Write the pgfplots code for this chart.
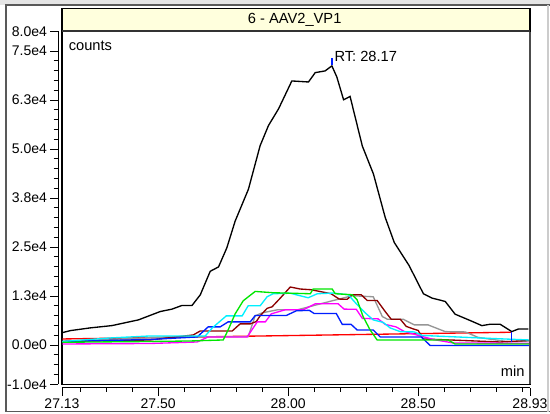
\documentclass[border=0pt]{standalone}
\usepackage{pgfplots}
\pgfplotsset{compat=1.18}
\usepackage{fontspec}
\setmainfont{Liberation Sans}
\definecolor{titlebg}{RGB}{255,255,221}
\definecolor{mygreen}{RGB}{0,230,0}
\definecolor{mycyan}{RGB}{0,240,255}
\definecolor{mygray}{RGB}{150,150,150}
\definecolor{mymaroon}{RGB}{140,0,0}
\definecolor{myblue}{RGB}{0,30,255}
\definecolor{mymagenta}{RGB}{255,0,255}
\pgfplotsset{
  rng/.style={scale only axis, width=351pt, height=264.6pt,
    xmin=27.13, xmax=28.93, ymin=-10000, ymax=80000},
  lw/.style={line width=1pt, no markers},
}
\begin{document}
\begin{tikzpicture}
\path[use as bounding box] (0,0) rectangle (412.5pt,310.5pt);
\fill[white] (0,0) rectangle (412.5pt,310.5pt);
\fill[gray!20] (0,307pt) rectangle (412.5pt,310.5pt);
\draw[gray!70!black, line width=1pt] (4.5pt,1.7pt) -- (4.5pt,306.75pt) -- (412.5pt,306.75pt);
\draw[gray!70!black, line width=1pt] (4.5pt,1.7pt) -- (412.5pt,1.7pt);
\draw[gray!40, line width=0.8pt] (411pt,1.7pt) -- (411pt,306.75pt);

% x ruler
\begin{axis}[rng, at={(46.5pt,19.7pt)}, anchor=south west,
  axis x line*=bottom, axis y line=none,
  axis line style={black, line width=0.8pt},
  tick align=outside,
  xtick={27.13,27.5,28.0,28.5,28.93},
  xticklabels={27.13,27.50,28.00,28.50,28.93},
  minor xtick={27.2,27.3,27.4,27.6,27.7,27.8,27.9,28.1,28.2,28.3,28.4,28.6,28.7,28.8,28.9},
  major tick length=6pt, minor tick length=3pt,
  every tick/.style={black, line width=0.7pt},
  ticklabel style={font=\fontsize{10.5}{12}\selectfont},
  /pgf/number format/assume math mode=true,
  xticklabel style={yshift=1pt},
]
\end{axis}

% y ruler
\begin{axis}[rng, at={(43.7pt,22.35pt)}, anchor=south west,
  axis y line*=left, axis x line=none,
  axis line style={black, line width=0.8pt},
  tick align=outside,
  ytick={-10000,0,12500,25000,37500,50000,62500,75000,80000},
  yticklabels={-1.0e4,0.0e0,1.3e4,2.5e4,3.8e4,5.0e4,6.3e4,7.5e4,8.0e4},
  minor ytick={-7500,-5000,-2500,2500,5000,7500,10000,15000,17500,20000,22500,27500,30000,32500,35000,40000,42500,45000,47500,52500,55000,57500,60000,65000,67500,70000,72500},
  major tick length=6pt, minor tick length=3.5pt,
  every tick/.style={black, line width=0.7pt},
  ticklabel style={font=\fontsize{10.5}{12}\selectfont},
  /pgf/number format/assume math mode=true,
  yticklabel style={xshift=1pt},
]
\end{axis}

% data
\begin{axis}[rng, at={(46.5pt,22.35pt)}, anchor=south west,
  xtick=\empty, ytick=\empty,
  axis line style={black, line width=0.9pt},
  clip=true,
]
\addplot[lw, red] coordinates {(27.131,1538) (28.860,3256)};
\addplot[lw, mygray] table {
27.131 897
27.535 2051
27.846 2128
27.873 7436
27.900 8205
27.958 8974
28.035 8974
28.162 11154
28.200 11795
28.246 12564
28.327 12308
28.362 7256
28.381 6590
28.442 6590
28.485 5128
28.538 5128
28.604 3410
28.681 3333
28.731 1923
28.846 846
28.927 1026
};
\addplot[lw, mymaroon] table {
27.131 897
27.469 1282
27.635 2564
27.662 3590
27.785 3590
27.815 5385
27.854 5385
27.877 5974
27.892 7436
27.919 9359
27.938 9744
27.969 11923
28.008 14795
28.046 14282
28.088 14103
28.165 13077
28.196 11718
28.227 11667
28.246 12821
28.281 12821
28.304 11359
28.342 11359
28.373 8538
28.396 6590
28.431 6590
28.454 4744
28.481 4103
28.500 3718
28.519 1538
28.623 1282
28.815 769
28.927 1154
};
\addplot[lw, mymagenta] table {
27.131 256
27.469 385
27.650 769
27.692 2051
27.842 2051
27.881 5897
27.912 5897
27.935 7949
27.988 8974
28.058 8974
28.104 10513
28.192 10513
28.215 9154
28.262 9103
28.285 6795
28.346 6667
28.373 5256
28.415 4615
28.446 3462
28.508 2308
28.558 1410
28.635 513
28.927 436
};
\addplot[lw, myblue] table {
27.131 897
27.469 1410
27.650 2051
27.692 4615
27.738 4615
27.769 5897
27.854 5897
27.873 7513
27.992 7513
28.031 8718
28.081 8846
28.100 8026
28.185 8026
28.208 5256
28.242 5256
28.265 3846
28.327 3846
28.354 2051
28.512 2051
28.546 -128
28.927 -128
};
\addplot[lw, mycyan] table {
27.131 897
27.315 1795
27.469 2308
27.681 2308
27.708 4359
27.762 7436
27.823 7436
27.846 10000
27.892 10000
27.919 12308
27.942 13077
28.008 13205
28.046 12564
28.077 12051
28.112 13077
28.173 13256
28.231 12821
28.262 10513
28.296 8205
28.327 6410
28.365 5769
28.392 4359
28.431 3410
28.485 3333
28.515 2436
28.623 2128
28.765 1718
28.927 1282
};
\addplot[lw, mygreen] table {
27.131 692
27.469 897
27.623 1026
27.750 1282
27.769 3846
27.796 7949
27.827 11282
27.873 13667
27.942 13333
28.085 13077
28.096 14282
28.169 14282
28.181 13077
28.246 12821
28.265 11538
28.288 7256
28.315 3846
28.342 1282
28.615 1282
28.642 256
28.927 256
};
\addplot[lw, black] table {
27.131 3150
27.162 3670
27.238 4360
27.322 4950
27.424 6410
27.508 8540
27.553 9150
27.591 10080
27.630 10080
27.662 12820
27.700 18800
27.732 19920
27.764 24790
27.796 31620
27.847 39740
27.892 50850
27.924 55970
27.963 60260
28.014 67360
28.078 67100
28.104 69490
28.142 69920
28.168 71210
28.187 68380
28.213 62560
28.238 63410
28.285 50770
28.328 43590
28.373 32560
28.408 26150
28.465 20260
28.520 13080
28.553 11970
28.604 11110
28.642 7860
28.700 6240
28.745 4940
28.777 5300
28.815 5300
28.860 3420
28.886 4100
28.924 4100
};
\addplot[lw, myblue] coordinates {(28.860,3330) (28.860,770)};
\addplot[lw, myblue] coordinates {(28.169,71500) (28.169,73300)};
\node[anchor=west, inner sep=1pt, font=\fontsize{11}{13}\selectfont] at (axis cs:28.172,73600) {RT: 28.17};
\node[anchor=west, inner sep=0pt, font=\fontsize{11}{13}\selectfont] at (rel axis cs:0.014,0.958) {counts};
\node[anchor=east, inner sep=0pt, font=\fontsize{11}{13}\selectfont] at (rel axis cs:0.989,0.036) {min};
\end{axis}
\draw[black!70, line width=1.3pt] (397.5pt,22.35pt) -- (397.5pt,287pt);
\filldraw[fill=titlebg, draw=black, line width=0.9pt] (46.5pt,287pt) rectangle (397.5pt,304.3pt);
\draw[black!80, line width=1.6pt] (46.5pt,287.3pt) -- (397.5pt,287.3pt);
\node[font=\fontsize{11}{13}\selectfont] at (221pt,295.6pt) {6 - AAV2\_VP1};
\end{tikzpicture}
\end{document}
